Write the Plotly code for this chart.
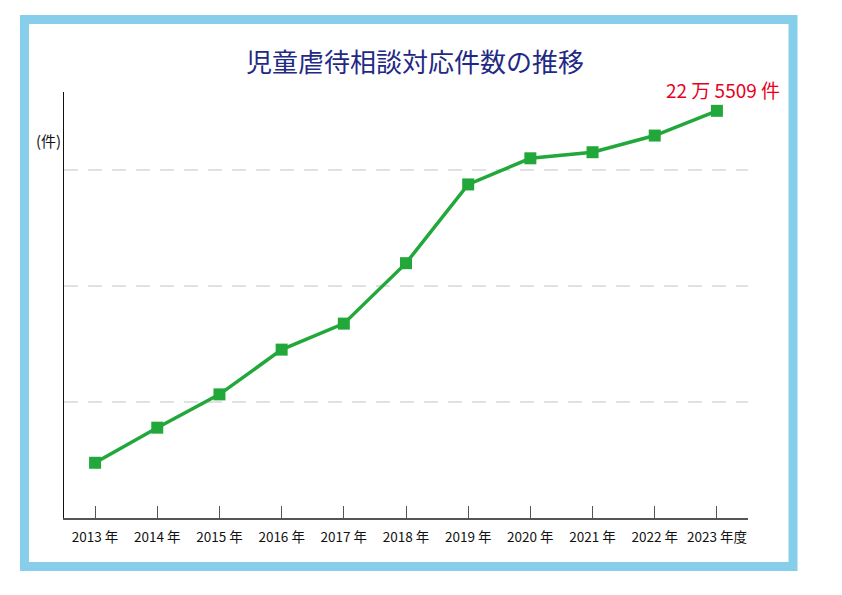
import plotly.graph_objects as go

years = [2013, 2014, 2015, 2016, 2017, 2018, 2019, 2020, 2021, 2022, 2023]
counts = [73802, 88931, 103286, 122575, 133778, 159838, 193780, 205044, 207660, 214843, 225509]
tick_labels = ["2013 年", "2014 年", "2015 年", "2016 年", "2017 年", "2018 年",
               "2019 年", "2020 年", "2021 年", "2022 年", "2023 年度"]
grid_vals = [100000, 150000, 200000]

FONT = "Noto Sans CJK JP"
GREEN = "#22a83a"

fig = go.Figure()

fig.add_trace(go.Scatter(
    x=years,
    y=counts,
    mode="lines+markers",
    line=dict(color=GREEN, width=3.5),
    marker=dict(symbol="square", size=12, color=GREEN),
    showlegend=False,
    hoverinfo="skip",
))

# dashed guide lines
for g in grid_vals:
    fig.add_shape(type="line", xref="paper", yref="y", x0=0, x1=1, y0=g, y1=g,
                  line=dict(color="#c4c4c4", width=1.2, dash="14px,10px"), layer="below")

# light blue frame
fig.add_shape(type="rect", xref="paper", yref="paper",
              x0=-0.0578, x1=1.0658, y0=-0.1138, y1=1.1702,
              line=dict(color="#87ceeb", width=9), fillcolor="rgba(0,0,0,0)")

fig.add_annotation(text="児童虐待相談対応件数の推移", xref="paper", yref="paper",
                   x=0.513, y=1.074, yanchor="middle", showarrow=False,
                   font=dict(family=FONT, size=26, color="#1f2a85"))

fig.add_annotation(text="22 万 5509 件", xref="x", yref="y",
                   x=years[-1], y=counts[-1], yshift=21, xshift=6, showarrow=False,
                   font=dict(family=FONT, size=19, color="#e8001c"))

fig.add_annotation(text="(件)", xref="paper", yref="paper",
                   x=-0.002, y=0.885, xanchor="right", yanchor="middle", showarrow=False,
                   font=dict(family=FONT, size=15, color="#111111"))

fig.update_xaxes(
    range=[2012.5, 2023.5],
    tickvals=years,
    ticktext=tick_labels,
    ticks="inside",
    ticklen=12,
    tickcolor="#555555",
    ticklabelstandoff=6,
    showline=True,
    linecolor="#555555",
    linewidth=1.5,
    showgrid=False,
    zeroline=False,
    tickfont=dict(family=FONT, size=13.5, color="#111111"),
)
fig.update_yaxes(
    range=[50000, 233620],
    showticklabels=False,
    ticks="",
    showline=True,
    linecolor="#111111",
    linewidth=1.2,
    showgrid=False,
    zeroline=False,
)

# page body adds an 8px offset, so margins are trimmed on the left/top
fig.update_layout(
    width=842,
    height=595,
    margin=dict(l=56, r=102, t=84, b=85),
    plot_bgcolor="white",
    paper_bgcolor="white",
    font=dict(family=FONT),
)

fig.write_html("out.html")
